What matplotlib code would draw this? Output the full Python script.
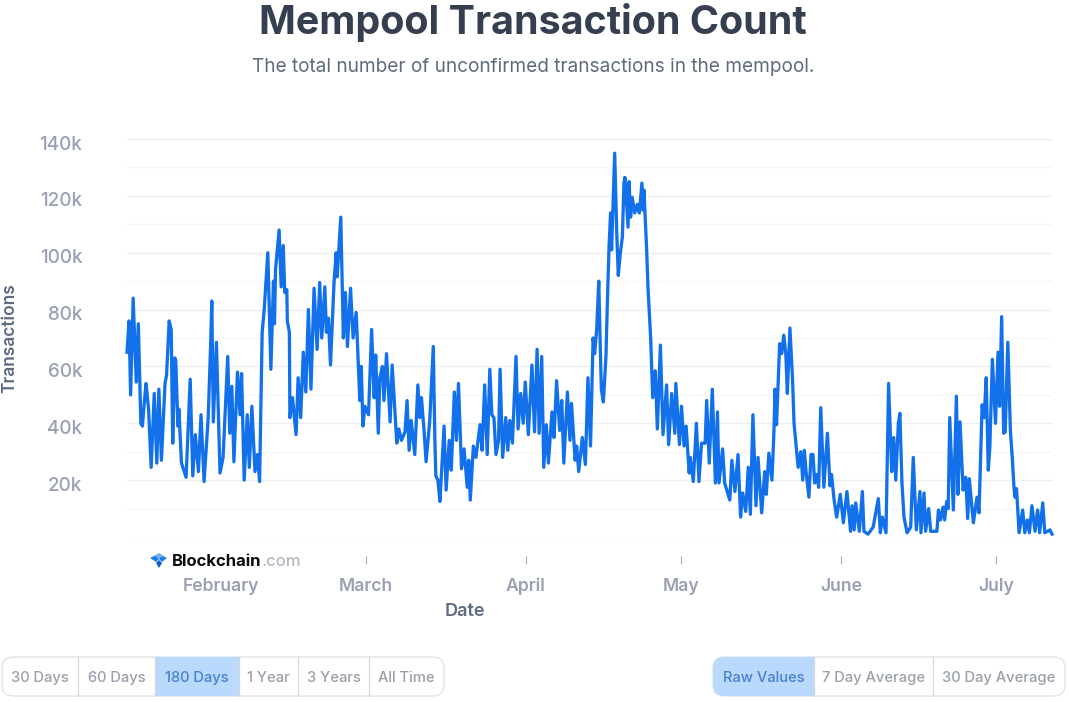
import numpy as np
import matplotlib
matplotlib.use('Agg')
import matplotlib.pyplot as plt
import matplotlib.dates as mdates
from matplotlib.patches import FancyBboxPatch, Rectangle, Polygon
from matplotlib.transforms import Affine2D, ScaledTranslation

W, H = 1069, 702

# days since the first sample
days = [0.0, 0.4, 0.7, 1.2, 1.8, 2.2, 2.7, 3.0, 3.4, 3.7, 4.2, 4.7, 5.3, 5.8, 6.2, 6.7, 7.4, 7.7, 8.2, 8.6,
        8.9, 9.3, 9.5, 9.9, 10.1, 10.6, 11.5, 12.3, 12.8, 13.3, 13.9, 14.4, 15.0, 15.8, 16.3, 16.5, 16.8, 17.4, 18.1, 18.7,
        19.6, 20.0, 20.4, 20.8, 21.5, 22.0, 22.3, 22.8, 23.4, 23.8, 24.3, 24.9, 25.4, 25.8, 26.3, 26.7, 27.4, 28.0, 28.5, 28.7,
        28.9, 29.2, 29.6, 30.0, 30.4, 30.7, 31.1, 31.2, 31.6, 31.7, 32.2, 32.9, 33.3, 33.8, 34.3, 34.8, 35.3, 35.8, 36.4, 37.0,
        37.5, 37.9, 38.5, 38.8, 39.2, 39.6, 40.3, 40.7, 40.9, 41.6, 42.1, 42.5, 42.9, 43.5, 44.0, 44.6, 45.3, 45.6, 45.9, 46.3,
        47.0, 47.6, 48.1, 48.4, 48.9, 49.2, 49.7, 50.0, 50.5, 51.2, 51.6, 52.5, 52.9, 53.4, 54.1, 54.5, 54.9, 55.3, 56.0, 56.6,
        57.0, 57.3, 57.8, 58.2, 58.9, 59.6, 59.9, 60.1, 60.5, 60.9, 61.7, 62.1, 62.7, 63.1, 63.7, 64.1, 64.5, 65.1, 65.6, 66.2,
        66.5, 66.8, 67.4, 67.9, 68.7, 69.1, 69.6, 70.1, 70.6, 71.0, 71.4, 71.8, 72.3, 72.6, 73.1, 73.7, 74.1, 74.5, 75.0, 75.7,
        76.1, 76.6, 77.1, 77.5, 78.1, 78.8, 79.3, 79.8, 80.2, 80.7, 81.1, 81.6, 82.0, 82.7, 83.1, 83.6, 84.2, 84.6, 85.0, 85.7,
        86.2, 86.5, 87.2, 87.5, 87.9, 88.6, 89.2, 89.7, 90.2, 90.7, 91.0, 91.4, 91.8, 92.3, 92.7, 93.2, 93.5, 93.8, 94.1, 94.3,
        94.9, 95.3, 95.6, 96.0, 96.4, 96.7, 96.9, 97.5, 97.7, 98.0, 98.3, 98.8, 99.3, 99.7, 100.2, 100.4, 100.6, 101.1, 101.4, 101.9,
        102.3, 102.8, 103.2, 103.8, 104.3, 105.0, 105.4, 106.0, 106.6, 106.8, 107.5, 107.9, 108.4, 108.8, 109.4, 109.6, 110.2, 110.8, 111.3, 111.8,
        112.5, 112.8, 113.3, 113.9, 114.5, 114.9, 115.2, 115.9, 116.3, 117.3, 117.7, 118.3, 118.9, 119.4, 119.8, 120.4, 120.9, 121.3, 121.8, 122.4,
        122.8, 123.5, 124.1, 124.4, 124.9, 125.5, 125.9, 126.1, 126.4, 127.0, 127.4, 127.8, 128.2, 128.5, 129.0, 129.5, 129.8, 130.6, 131.1, 131.5,
        131.8, 132.2, 132.7, 133.1, 133.5, 133.8, 134.2, 134.6, 135.0, 135.6, 136.3, 136.8, 137.1, 137.6, 138.1, 138.8, 139.4, 140.1, 140.8, 141.1,
        141.5, 141.8, 142.5, 143.1, 143.4, 144.2, 145.2, 146.2, 146.6, 147.0, 147.7, 148.2, 148.8, 149.2, 149.6, 150.1, 150.4, 150.8, 151.2, 151.8,
        152.5, 153.0, 153.6, 154.3, 154.5, 155.1, 155.4, 156.0, 156.4, 157.6, 157.9, 158.3, 158.8, 159.1, 159.5, 159.8, 160.1, 160.8, 161.4, 161.7,
        162.1, 162.7, 163.2, 163.6, 163.9, 164.7, 165.4, 165.8, 166.4, 166.8, 167.2, 167.6, 167.9, 168.4, 169.0, 169.5, 169.8, 170.2, 170.6, 170.9,
        171.4, 171.9, 172.3, 172.6, 172.8, 173.1, 173.6, 174.3, 174.7, 175.2, 175.6, 176.1, 176.7, 177.2, 177.6, 178.2, 178.6, 179.6, 180.0]

# unconfirmed transactions, thousands
counts = [65, 76, 50, 84, 54.5, 75, 40, 39, 48, 54, 45, 24.5, 50.5, 26, 52, 27, 54, 57, 76, 73,
          33, 63, 62, 39, 45, 26, 21, 55.5, 21.5, 36, 23, 43, 19.5, 42, 69, 83, 40.5, 68.5, 22.5, 28,
          63.5, 36.5, 53, 26.5, 58, 43, 57.5, 20, 43, 24.5, 46, 23, 29, 19.5, 72, 80, 100, 59, 90, 75,
          94, 100, 108, 88, 102.5, 86, 87, 76, 72, 42, 49, 36, 56, 42, 65, 51, 80, 52, 87.5, 66,
          89.5, 70, 88, 72, 77, 60.5, 90, 100, 91.5, 112.5, 70, 86, 67, 87.5, 70, 79, 48, 60, 39, 46,
          43, 73, 49, 64, 36.5, 56, 60, 48, 64.5, 40.5, 60.5, 33, 38, 34, 37, 48, 30.5, 41, 29, 53.5,
          42, 49, 37.5, 26.5, 40.5, 67, 35, 21.5, 20, 12.5, 39, 16.5, 34, 23.5, 51, 34, 54, 24, 31, 17.5,
          27, 13, 32, 28, 39.5, 30.5, 53.5, 29, 59, 43, 42, 29, 34, 59, 28, 42, 30.5, 41, 33, 63.5,
          38, 50.5, 40, 54.5, 36, 60.5, 37, 66, 36.5, 63.5, 24.5, 39.5, 26, 44, 35, 55, 37.5, 48, 26, 51,
          34, 47, 27, 32, 23, 35, 25.5, 56, 32, 70, 64.5, 73, 90, 52, 47.5, 63.5, 84, 102, 114, 101,
          135, 107, 92, 100, 105.5, 124.5, 126.5, 109, 125, 112.5, 119.5, 114, 117, 114, 124.5, 115, 122, 102, 87, 70,
          49, 58.5, 38, 67.5, 36, 53.5, 32.5, 50.5, 36.5, 54, 32.5, 46, 32, 39, 22.5, 28, 19.5, 40, 19.5, 33,
          33, 48, 26, 52, 19, 44, 19, 31, 19, 13, 27, 16, 29, 7, 15.5, 9, 24.5, 8, 43, 11,
          28, 8.5, 23, 15, 29.5, 20, 37.5, 52, 39.5, 68, 64.5, 71, 64.5, 50.5, 73.5, 56, 40, 24.5, 30, 20,
          30.5, 22, 14, 29, 29, 19, 22, 17.5, 45.5, 17.5, 36.5, 18, 22, 13, 7, 15, 5, 16, 2, 11,
          2.5, 12, 2, 16, 2, 1, 3.5, 13.5, 1.5, 7, 1.5, 54, 23, 35, 20, 40, 43.5, 19, 7, 1.5,
          3.5, 28, 2.5, 16, 1.5, 15.5, 2, 10, 2, 2, 9.5, 6, 10.5, 6, 12.5, 10, 42, 9.5, 49.5, 15,
          40.5, 16.5, 21, 6.5, 20.5, 5, 14, 8.5, 46.5, 42, 56, 23.5, 31.5, 62.5, 40, 65, 46, 77.5, 36.5, 37,
          68.5, 37.5, 27, 17.5, 14, 17, 1.5, 9.5, 1.5, 6, 1.5, 11, 2, 9.5, 1.5, 12, 1.5, 2.5, 1]

start_date = '2021-01-13T19:00'
span_days = 179
month_dates = ['2021-02-01', '2021-03-01', '2021-04-01', '2021-05-01', '2021-06-01', '2021-07-01']
month_labels = ['February', 'March', 'April', 'May', 'June', 'July']
y_ticks = [20, 40, 60, 80, 100, 120, 140]
y_minor = [0, 10, 30, 50, 70, 90, 110, 130]

range_buttons = ['30 Days', '60 Days', '180 Days', '1 Year', '3 Years', 'All Time']
range_edges = [2, 78, 155, 239, 298, 369, 444]
avg_buttons = ['Raw Values', '7 Day Average', '30 Day Average']
avg_edges = [713, 814, 933, 1065]

plt.rcParams['font.family'] = ['Inter', 'DejaVu Sans']

fig = plt.figure(figsize=(W / 100, H / 100), dpi=100)
ax = fig.add_axes([127 / W, 1 - 537 / H, 925 / W, 398 / H])

# pixel coordinates for the page furniture round the chart
page = Affine2D().scale(1 / W, -1 / H).translate(0, 1) + fig.transFigure

start = mdates.date2num(np.datetime64(start_date))
x = start + np.array(days) * span_days / days[-1]
ax.plot(x, counts, color='#1270ea', lw=2.35, solid_joinstyle='round', clip_on=False, zorder=3)

ax.set_xlim(start, start + span_days)
ax.set_ylim(0, 140)

for s in ['top', 'left', 'right']:
    ax.spines[s].set_visible(False)
ax.spines['bottom'].set_visible(False)
ax.spines['bottom'].set_position(('outward', 13.5))

ax.set_yticks(y_ticks)
ax.set_yticklabels(['%dk' % v for v in y_ticks], fontsize=13.6, fontweight=500, color='#9aa1b5')
ax.set_yticks(y_minor, minor=True)
ax.tick_params(axis='y', which='both', length=0, pad=32)
ax.grid(axis='y', which='major', color='#eceef2', lw=0.9)
ax.grid(axis='y', which='minor', color='#f5f6f8', lw=0.9)
ax.set_axisbelow(True)
for lab in ax.get_yticklabels():
    lab.set_transform(lab.get_transform() + ScaledTranslation(0, -3.5 / 100, fig.dpi_scale_trans))

ax.set_xticks(mdates.date2num(np.array(month_dates, dtype='datetime64[D]')))
ax.set_xticklabels(month_labels, fontsize=12.7, fontweight=600, color='#9aa1b5')
ax.tick_params(axis='x', length=6, width=0.8, color='#a9adb8', pad=10)
ax.xaxis.get_major_ticks()[0].tick1line.set_visible(False)

ax.text(465, 612, 'Date', transform=page, ha='center', va='center', fontsize=13,
        fontweight=600, color='#5f6b80')
ax.text(10, 338, 'Transactions', transform=page, ha='center', va='center', rotation=90,
        fontsize=12.5, fontweight=600, color='#5f6b80')

fig.text(533, 22, 'Mempool Transaction Count', transform=page, ha='center', va='center',
         fontsize=28.4, fontweight=700, color='#353f50')
fig.text(533, 67, 'The total number of unconfirmed transactions in the mempool.', transform=page,
         ha='center', va='center', fontsize=13.7, color='#5f6b7d')

# logo
for pts, col in [([(150, 558), (156, 555), (159, 559), (156, 562)], '#1f7fe0'),
                 ([(167, 558), (161, 555), (159, 559), (162, 562)], '#1f7fe0'),
                 ([(154, 556), (159, 553), (164, 556), (159, 558)], '#6fb0f0'),
                 ([(156, 563), (159, 560), (162, 563), (159, 568)], '#0d5cc0')]:
    fig.add_artist(Polygon(pts, closed=True, transform=page, color=col, lw=0))
fig.text(172, 561, 'Blockchain', transform=page, ha='left', va='center', fontsize=12,
         fontweight=700, color='#0b0b10')
fig.text(262, 561, '.com', transform=page, ha='left', va='center', fontsize=12,
         fontweight=500, color='#b4b7bf')


def draw_buttons(labels, edges, active):
    y0, y1 = 657, 696
    bg = FancyBboxPatch((edges[0], y0), edges[-1] - edges[0], y1 - y0, boxstyle='round,pad=0,rounding_size=11',
                        transform=page, fc='white', ec='#e0e2e6', lw=0.9)
    fig.add_artist(bg)
    hi = Rectangle((edges[active], y0), edges[active + 1] - edges[active], y1 - y0, transform=page,
                   fc='#b9d9fd', ec='none')
    fig.add_artist(hi)
    hi.set_clip_path(bg)
    for e in edges[1:-1]:
        fig.add_artist(plt.Line2D([e, e], [y0, y1], transform=page, color='#d5d7dc', lw=0.9))
    for i, lab in enumerate(labels):
        col = '#4a7fd0' if i == active else '#9a9fab'
        fig.text((edges[i] + edges[i + 1]) / 2, 678, lab, transform=page, ha='center', va='center',
                 fontsize=10.6, fontweight=500, color=col)


draw_buttons(range_buttons, range_edges, 2)
draw_buttons(avg_buttons, avg_edges, 0)

fig.savefig('out.png', dpi=100)
